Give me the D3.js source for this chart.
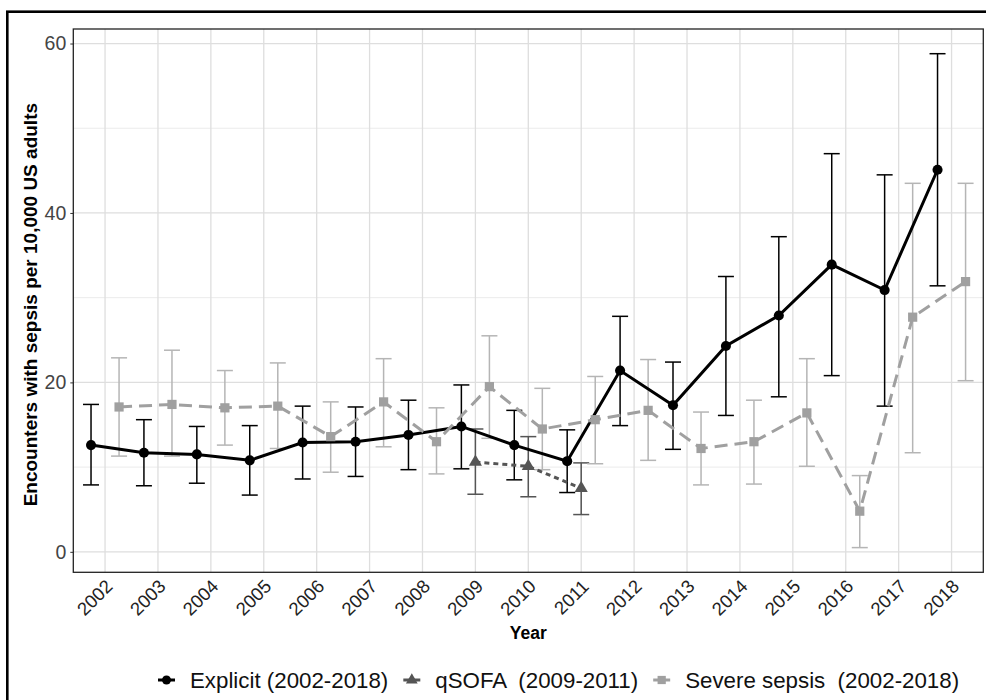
<!DOCTYPE html>
<html>
<head>
<meta charset="utf-8">
<script src="https://cdn.jsdelivr.net/npm/d3@7"></script>
<style>
  body { margin: 0; background: #fff; }
  svg, svg text { font-family: "Liberation Sans", Arial, sans-serif; }
  svg { display: block; }
</style>
</head>
<body>
<div class="d3Chart"></div>
<script>
// categories
var years = ["2002", "2003", "2004", "2005", "2006", "2007", "2008", "2009", "2010",
  "2011", "2012", "2013", "2014", "2015", "2016", "2017", "2018"];
var qsofaYears = ["2009", "2010", "2011"];

// Explicit (2002-2018)
var explicitRate = [12.6, 11.7, 11.5, 10.8, 12.9, 13.0, 13.8, 14.8, 12.6, 10.7, 21.4, 17.3, 24.3, 27.9, 33.9, 30.9, 45.1];
var explicitLow = [7.9, 7.8, 8.1, 6.7, 8.6, 8.9, 9.7, 9.8, 8.5, 7.0, 14.9, 12.1, 16.1, 18.3, 20.8, 17.2, 31.4];
var explicitHigh = [17.4, 15.6, 14.8, 14.9, 17.2, 17.1, 17.9, 19.7, 16.7, 14.4, 27.8, 22.4, 32.5, 37.2, 47.0, 44.5, 58.8];

// qSOFA (2009-2011)
var qsofaRate = [10.6, 10.1, 7.5];
var qsofaLow = [6.8, 6.5, 4.4];
var qsofaHigh = [14.5, 13.6, 10.5];

// Severe sepsis (2002-2018)
var severeRate = [17.1, 17.4, 17.0, 17.2, 13.6, 17.7, 13.0, 19.5, 14.5, 15.6, 16.7, 12.2, 13.0, 16.4, 4.8, 27.7, 31.9];
var severeLow = [11.3, 11.3, 12.6, 12.2, 9.4, 12.4, 9.2, 13.4, 9.7, 10.4, 10.8, 7.9, 8.0, 10.1, 0.5, 11.7, 20.2];
var severeHigh = [22.9, 23.8, 21.4, 22.3, 17.7, 22.8, 17.0, 25.5, 19.3, 20.7, 22.7, 16.5, 17.9, 22.8, 9.0, 43.5, 43.5];

var yTicks = [0, 20, 40, 60];
var yMinor = [10, 30, 50];

var seriesNames = ["Explicit", "qSOFA", "Severe"];
var legendLabels = ["Explicit (2002-2018)", "qSOFA  (2009-2011)", "Severe sepsis  (2002-2018)"];

function rows(cats, rate, low, high) {
  return cats.map(function (c, i) {
    return { year: c, value: rate[i], low: low[i], high: high[i] };
  });
}

var series = [
  { name: "Explicit", rows: rows(years, explicitRate, explicitLow, explicitHigh),
    color: "#000", barColor: "#000", barWidth: 1.5, dash: null, shape: "circle" },
  { name: "qSOFA", rows: rows(qsofaYears, qsofaRate, qsofaLow, qsofaHigh),
    color: "#555", barColor: "#555", barWidth: 1.5, dash: "5,4", shape: "triangle" },
  { name: "Severe", rows: rows(years, severeRate, severeLow, severeHigh),
    color: "#a0a0a0", barColor: "#b5b5b5", barWidth: 1.5, dash: "13,7", shape: "square" },
];

// canvas
var width = 986;
var height = 700;
var margin = { top: 29, right: 2.7, bottom: 127.7, left: 73.3 };
var innerW = width - margin.left - margin.right;
var innerH = height - margin.top - margin.bottom;
var fontFamily = '"Liberation Sans", Arial, sans-serif';

var svg = d3.select(".d3Chart").append("svg")
  .attr("width", width)
  .attr("height", height);

svg.append("rect").attr("width", width).attr("height", height).attr("fill", "#fff");

// outer frame (cropped at right and bottom)
svg.append("rect")
  .attr("x", 7.3).attr("y", 11.7)
  .attr("width", 1000).attr("height", 1000)
  .attr("fill", "none").attr("stroke", "#000").attr("stroke-width", 2.6);

var chart = svg.append("g").attr("transform", `translate(${margin.left},${margin.top})`);

// scales
var allLow = explicitLow.concat(qsofaLow, severeLow);
var allHigh = explicitHigh.concat(qsofaHigh, severeHigh);
var yMin = d3.min(allLow), yMax = d3.max(allHigh);
var pad = (yMax - yMin) * 0.05;
var y = d3.scaleLinear().domain([yMin - pad, yMax + pad]).range([innerH, 0]);

var x = d3.scalePoint().domain(years).range([0, innerW]).padding(0.6);
var dodgeW = x.step() * 0.53;
var dodge = d3.scalePoint().domain(seriesNames).range([-dodgeW / 2, dodgeW / 2]);

// grid
chart.append("g").selectAll("line").data(yMinor).enter().append("line")
  .attr("x1", 0).attr("x2", innerW)
  .attr("y1", function (d) { return y(d); }).attr("y2", function (d) { return y(d); })
  .attr("stroke", "#ebebeb").attr("stroke-width", 1);
chart.append("g").selectAll("line").data(yTicks).enter().append("line")
  .attr("x1", 0).attr("x2", innerW)
  .attr("y1", function (d) { return y(d); }).attr("y2", function (d) { return y(d); })
  .attr("stroke", "#dedede").attr("stroke-width", 1.3);
chart.append("g").selectAll("line").data(years).enter().append("line")
  .attr("x1", function (d) { return x(d); }).attr("x2", function (d) { return x(d); })
  .attr("y1", 0).attr("y2", innerH)
  .attr("stroke", "#dedede").attr("stroke-width", 1.3);

// axes
var yAxis = chart.append("g")
  .call(d3.axisLeft(y).tickValues(yTicks).tickSize(3).tickPadding(4));
yAxis.attr("font-family", fontFamily).attr("font-size", 19.5);
yAxis.select(".domain").remove();
yAxis.selectAll("line").attr("stroke", "#333");
yAxis.selectAll("text").attr("fill", "#444");

var xAxis = chart.append("g")
  .attr("transform", `translate(0,${innerH})`)
  .call(d3.axisBottom(x).tickSize(0));
xAxis.attr("font-family", fontFamily).attr("font-size", 18.5);
xAxis.select(".domain").remove();
xAxis.selectAll("text")
  .attr("fill", "#222")
  .attr("text-anchor", "end")
  .attr("y", 0)
  .attr("dy", "0.71em")
  .attr("transform", "translate(-1,6) rotate(-45)");

// error bars
var capW = 16;
series.forEach(function (s) {
  var g = chart.append("g")
    .attr("stroke", s.barColor).attr("stroke-width", s.barWidth).attr("fill", "none");
  var bars = g.selectAll("g").data(s.rows).enter().append("g")
    .attr("transform", function (d) { return `translate(${x(d.year) + dodge(s.name)},0)`; });
  bars.append("line").attr("y1", function (d) { return y(d.low); }).attr("y2", function (d) { return y(d.high); });
  bars.append("line").attr("x1", -capW / 2).attr("x2", capW / 2)
    .attr("y1", function (d) { return y(d.low); }).attr("y2", function (d) { return y(d.low); });
  bars.append("line").attr("x1", -capW / 2).attr("x2", capW / 2)
    .attr("y1", function (d) { return y(d.high); }).attr("y2", function (d) { return y(d.high); });
});

// lines
series.forEach(function (s) {
  var line = d3.line()
    .x(function (d) { return x(d.year) + dodge(s.name); })
    .y(function (d) { return y(d.value); });
  chart.append("path").datum(s.rows)
    .attr("fill", "none").attr("stroke", s.color).attr("stroke-width", 3)
    .attr("stroke-dasharray", s.dash)
    .attr("d", line);
});

// points
var symbolType = { circle: d3.symbolCircle, triangle: d3.symbolTriangle, square: d3.symbolSquare };
var symbolSize = { circle: 80, triangle: 75, square: 85 };
series.forEach(function (s) {
  chart.append("g").selectAll("path").data(s.rows).enter().append("path")
    .attr("transform", function (d) { return `translate(${x(d.year) + dodge(s.name)},${y(d.value)})`; })
    .attr("d", d3.symbol().type(symbolType[s.shape]).size(symbolSize[s.shape]))
    .attr("fill", s.color);
});

// panel border
chart.append("rect").attr("width", innerW).attr("height", innerH)
  .attr("fill", "none").attr("stroke", "#222").attr("stroke-width", 1.3);

// axis titles
svg.append("text")
  .attr("x", margin.left + innerW / 2).attr("y", 639)
  .attr("text-anchor", "middle")
  .style("font-size", "17.5px").style("font-weight", "bold")
  .text("Year");
svg.append("text")
  .attr("transform", `translate(37,${margin.top + innerH / 2 + 4}) rotate(-90)`)
  .attr("text-anchor", "middle")
  .style("font-size", "19px").style("font-weight", "bold")
  .text("Encounters with sepsis per 10,000 US adults");

// legend
var legend = svg.append("g").attr("transform", "translate(158,680)");
var cursor = 0;
series.forEach(function (s, i) {
  var item = legend.append("g").attr("transform", `translate(${cursor},0)`);
  item.append("line").attr("x1", 0).attr("x2", 17).attr("y1", 0).attr("y2", 0)
    .attr("stroke", s.color).attr("stroke-width", 3);
  item.append("path").attr("transform", "translate(8.5,0)")
    .attr("d", d3.symbol().type(symbolType[s.shape]).size(symbolSize[s.shape] * 0.8))
    .attr("fill", s.color);
  var t = item.append("text").attr("x", 32).attr("dy", "0.36em")
    .style("font-size", "22.3px").style("white-space", "pre").attr("xml:space", "preserve")
    .attr("fill", "#111")
    .text(legendLabels[i]);
  cursor += 32 + t.node().getComputedTextLength() + 15;
});
</script>
</body>
</html>
